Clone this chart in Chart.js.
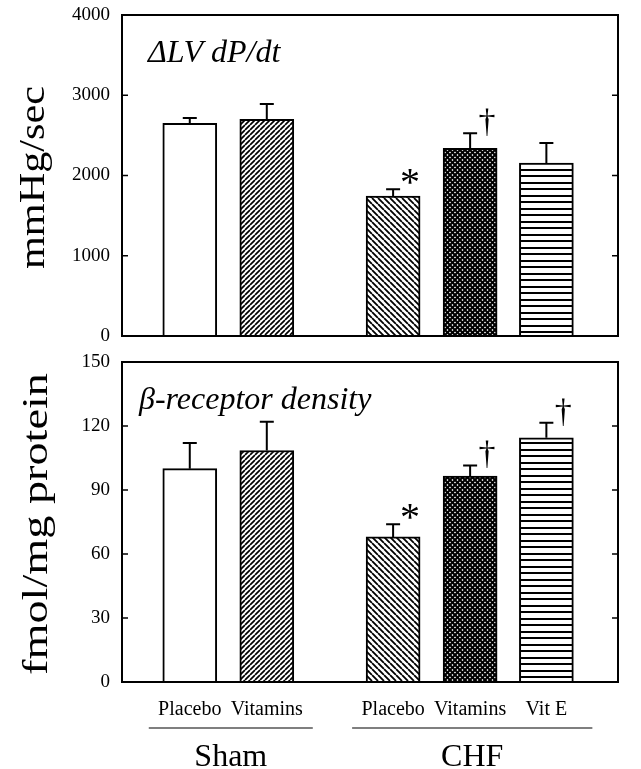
<!DOCTYPE html>
<html>
<head>
<meta charset="utf-8">
<script src="https://cdn.jsdelivr.net/npm/chart.js@4.4.1/dist/chart.umd.min.js"></script>
<style>
  html, body { margin: 0; padding: 0; background: #fff; }
  #wrap { position: relative; width: 641px; height: 769px; overflow: hidden; }
  canvas { position: absolute; left: 0; }
  #topChart { top: 0; width: 641px; height: 350px; }
  #bottomChart { top: 345px; width: 641px; height: 424px; }
</style>
</head>
<body>
<div id="wrap">
  <canvas id="topChart" width="641" height="350"></canvas>
  <canvas id="bottomChart" width="641" height="424"></canvas>
</div>
<script>
// Bar layout and labels
const treatments = ["Placebo", "Vitamins", "Placebo", "Vitamins", "Vit E"];
const barPositions = [0.88, 1.88, 3.52, 4.52, 5.51];
const groups = ["Sham", "CHF"];
const groupMembers = [[0, 1], [2, 3, 4]];

// Delta LV dP/dt (mmHg/sec)
const dpdtMeans = [2650, 2700, 1745, 2340, 2155];
const dpdtSem = [65, 190, 85, 185, 250];
const dpdtMarks = ["", "", "*", "\u2020", ""];
const dpdtTicks = [0, 1000, 2000, 3000, 4000];

// beta-receptor density (fmol/mg protein)
const densityMeans = [100, 108.5, 68, 96.5, 114.5];
const densitySem = [12, 13.5, 6, 5, 7];
const densityMarks = ["", "", "*", "\u2020", "\u2020"];
const densityTicks = [0, 30, 60, 90, 120, 150];

const SERIF = "'Liberation Serif', 'Times New Roman', serif";

/**
 * Build a small repeating tile for the hatch fills
 */
function makeTile(w, h, draw) {
  const c = document.createElement("canvas");
  c.width = w;
  c.height = h;
  const g = c.getContext("2d");
  g.fillStyle = "#fff";
  g.fillRect(0, 0, w, h);
  g.strokeStyle = "#000";
  g.fillStyle = "#000";
  draw(g, w, h);
  return c;
}

function diagonal(g, s, forward) {
  g.beginPath();
  for (let k = -1; k <= 1; k++) {
    if (forward) {
      g.moveTo(k * s, s);
      g.lineTo(k * s + s, 0);
    } else {
      g.moveTo(k * s, 0);
      g.lineTo(k * s + s, s);
    }
  }
  g.stroke();
}

const tiles = {
  fwd: makeTile(5, 5, (g) => { g.lineWidth = 1.7; diagonal(g, 5, true); }),
  back: makeTile(6, 6, (g) => { g.lineWidth = 1.8; diagonal(g, 6, false); }),
  cross: makeTile(5, 5, (g) => { g.lineWidth = 2.1; diagonal(g, 5, true); diagonal(g, 5, false); }),
  horiz: makeTile(4, 13, (g) => { g.fillRect(0, 0, 4, 2); g.fillRect(0, 6, 4, 2); }),
};

function barFills(ctx) {
  return [
    "#ffffff",
    ctx.createPattern(tiles.fwd, "repeat"),
    ctx.createPattern(tiles.back, "repeat"),
    ctx.createPattern(tiles.cross, "repeat"),
    ctx.createPattern(tiles.horiz, "repeat"),
  ];
}

// Frame, inner ticks, error bars, markers and texts
const panelDecor = {
  id: "panelDecor",
  afterDatasetsDraw(chart, args, opts) {
    const { ctx, chartArea: area } = chart;
    const yScale = chart.scales.y;
    const xScale = chart.scales.x;
    const meta = chart.getDatasetMeta(0);

    ctx.save();
    ctx.strokeStyle = "#000";
    ctx.fillStyle = "#000";

    // error bars (upper half only)
    ctx.lineWidth = 2;
    meta.data.forEach((bar, i) => {
      const yErr = yScale.getPixelForValue(opts.means[i] + opts.sem[i]);
      ctx.beginPath();
      ctx.moveTo(bar.x, bar.y);
      ctx.lineTo(bar.x, yErr);
      ctx.moveTo(bar.x - 7, yErr);
      ctx.lineTo(bar.x + 7, yErr);
      ctx.stroke();
    });

    // significance marks
    ctx.textAlign = "center";
    ctx.textBaseline = "alphabetic";
    meta.data.forEach((bar, i) => {
      const mark = opts.marks[i];
      if (!mark) return;
      const yErr = yScale.getPixelForValue(opts.means[i] + opts.sem[i]);
      const star = mark === "*";
      ctx.font = (star ? "40px " : "34px ") + SERIF;
      const m = ctx.measureText(mark);
      const mid = (m.actualBoundingBoxAscent - m.actualBoundingBoxDescent) / 2;
      const cy = yErr - (star ? 13 : 11);
      ctx.fillText(mark, bar.x + 17, cy + mid);
    });

    // box frame
    ctx.lineWidth = 2;
    ctx.strokeRect(area.left, area.top, area.right - area.left, area.bottom - area.top);

    // inward ticks on both sides
    ctx.lineWidth = 1.5;
    yScale.ticks.forEach((t) => {
      const y = yScale.getPixelForValue(t.value);
      ctx.beginPath();
      ctx.moveTo(area.left, y);
      ctx.lineTo(area.left + 6, y);
      ctx.moveTo(area.right, y);
      ctx.lineTo(area.right - 6, y);
      ctx.stroke();
    });

    // panel title
    ctx.textAlign = "left";
    ctx.font = "italic 32px " + SERIF;
    ctx.fillText(opts.title, area.left + opts.titleDx, area.top + 47);

    // y axis title, stretched along its length like the original
    ctx.save();
    ctx.translate(opts.yTitleX, (area.top + area.bottom) / 2 + 2);
    ctx.rotate(-Math.PI / 2);
    ctx.font = "36px " + SERIF;
    ctx.textAlign = "center";
    const w = ctx.measureText(opts.yTitle).width;
    ctx.scale(opts.yTitleLen / w, 1);
    ctx.fillText(opts.yTitle, 0, 0);
    ctx.restore();

    // group underlines and names
    if (opts.showGroups) {
      const lineY = area.bottom + 46;
      groups.forEach((name, gi) => {
        const idx = groupMembers[gi];
        const x0 = xScale.getPixelForValue(barPositions[idx[0]]) - 41;
        const x1 = xScale.getPixelForValue(barPositions[idx[idx.length - 1]]) + 46;
        ctx.lineWidth = 1.2;
        ctx.beginPath();
        ctx.moveTo(x0, lineY);
        ctx.lineTo(x1, lineY);
        ctx.stroke();
        ctx.font = "32px " + SERIF;
        ctx.textAlign = "center";
        ctx.fillText(name, (x0 + x1) / 2, lineY + 38);
      });
    }
    ctx.restore();
  },
};

/**
 * Create one bar panel
 */
function makePanel(canvasId, cfg) {
  const canvas = document.getElementById(canvasId);
  const ctx = canvas.getContext("2d");
  return new Chart(ctx, {
    type: "bar",
    data: {
      datasets: [
        {
          data: cfg.means.map((v, i) => ({ x: barPositions[i], y: v })),
          backgroundColor: barFills(ctx),
          borderColor: "#000",
          borderWidth: 2,
          borderSkipped: "start",
          barThickness: 54,
        },
      ],
    },
    options: {
      responsive: false,
      maintainAspectRatio: false,
      animation: false,
      layout: { padding: cfg.padding },
      plugins: {
        legend: { display: false },
        tooltip: { enabled: false },
        panelDecor: {
          means: cfg.means,
          sem: cfg.sem,
          marks: cfg.marks,
          title: cfg.title,
          titleDx: cfg.titleDx,
          yTitle: cfg.yTitle,
          yTitleLen: cfg.yTitleLen,
          yTitleX: cfg.yTitleX,
          showGroups: cfg.showX,
        },
      },
      scales: {
        x: {
          type: "linear",
          min: 0,
          max: 6.44,
          offset: false,
          display: cfg.showX,
          grid: { display: false, drawTicks: false },
          border: { display: false },
          afterBuildTicks: (s) => {
            s.ticks = barPositions.map((v) => ({ value: v }));
          },
          afterFit: (s) => {
            if (cfg.showX) {
              s.height = 87;
              s.paddingLeft = 0;
              s.paddingRight = 0;
            }
          },
          ticks: {
            autoSkip: false,
            maxRotation: 0,
            padding: 16,
            color: "#000",
            font: { family: SERIF, size: 20 },
            callback: (v, i) => treatments[i],
          },
        },
        y: {
          min: 0,
          max: cfg.ticks[cfg.ticks.length - 1],
          grid: { display: false, drawTicks: false },
          border: { display: false },
          afterBuildTicks: (s) => {
            s.ticks = cfg.ticks.map((v) => ({ value: v }));
          },
          afterFit: (s) => {
            s.width = 122;
            s.paddingTop = 0;
            s.paddingBottom = 0;
          },
          ticks: {
            padding: 12,
            color: "#000",
            font: { family: SERIF, size: 19 },
            callback: (v) => String(v),
          },
        },
      },
    },
    plugins: [panelDecor],
  });
}

makePanel("topChart", {
  means: dpdtMeans,
  sem: dpdtSem,
  marks: dpdtMarks,
  ticks: dpdtTicks,
  title: "\u0394LV dP/dt",
  titleDx: 26,
  yTitle: "mmHg/sec",
  yTitleLen: 183,
  yTitleX: 44,
  showX: false,
  padding: { top: 15, bottom: 14, left: 0, right: 23 },
});

makePanel("bottomChart", {
  means: densityMeans,
  sem: densitySem,
  marks: densityMarks,
  ticks: densityTicks,
  title: "\u03B2-receptor density",
  titleDx: 17,
  yTitle: "fmol/mg protein",
  yTitleLen: 302,
  yTitleX: 47,
  showX: true,
  padding: { top: 17, bottom: 0, left: 0, right: 23 },
});
</script>
</body>
</html>
